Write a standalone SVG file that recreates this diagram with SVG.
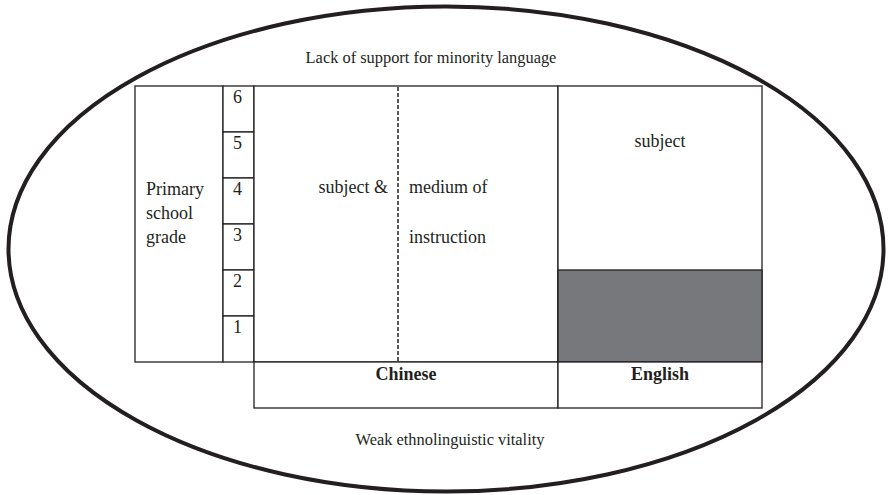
<svg xmlns="http://www.w3.org/2000/svg" width="889" height="495" viewBox="0 0 889 495">
<style>
.box{fill:#fff;stroke:#231f20;stroke-width:1.3}
text{font-family:'Liberation Serif','Times New Roman','DejaVu Serif',serif;fill:#231f20;font-size:18px}
.s{font-size:16.4px}
.b{font-weight:bold}
</style>
<rect width="889" height="495" fill="#fff"/>
<g id="outer">
<ellipse cx="446" cy="249" rx="437.5" ry="242.5" fill="none" stroke="#231f20" stroke-width="4"/>
<text class="s" x="431" y="63" text-anchor="middle">Lack of support for minority language</text>
<text class="s" x="450" y="445" text-anchor="middle">Weak ethnolinguistic vitality</text>
</g>
<g id="grade-label">
<rect class="box" x="135" y="86" width="88" height="276"/>
<text x="146" y="195">Primary</text>
<text x="146" y="219">school</text>
<text x="146" y="243">grade</text>
</g>
<g id="grades">
<rect class="box" x="223" y="86" width="31" height="46"/>
<rect class="box" x="223" y="132" width="31" height="46"/>
<rect class="box" x="223" y="178" width="31" height="46"/>
<rect class="box" x="223" y="224" width="31" height="46"/>
<rect class="box" x="223" y="270" width="31" height="46"/>
<rect class="box" x="223" y="316" width="31" height="46"/>
<text x="233" y="103">6</text>
<text x="233" y="149">5</text>
<text x="233" y="195">4</text>
<text x="233" y="241">3</text>
<text x="233" y="287">2</text>
<text x="233" y="333">1</text>
</g>
<g id="chinese">
<rect class="box" x="254" y="86" width="304" height="276"/>
<line x1="398" y1="87" x2="398" y2="361" stroke="#231f20" stroke-width="1.5" stroke-dasharray="4,2"/>
<text x="388" y="193" text-anchor="end">subject &amp;</text>
<text x="409" y="193">medium of</text>
<text x="409" y="243">instruction</text>
<rect class="box" x="254" y="362" width="304" height="46"/>
<text class="b" x="406" y="380" text-anchor="middle">Chinese</text>
</g>
<g id="english">
<rect class="box" x="558" y="86" width="204" height="276"/>
<rect x="558" y="270" width="204" height="92" fill="#77787b" stroke="#231f20" stroke-width="1.3"/>
<text x="660" y="147" text-anchor="middle">subject</text>
<rect class="box" x="558" y="362" width="204" height="46"/>
<text class="b" x="660" y="380" text-anchor="middle">English</text>
</g>
<g id="connectors"></g>
</svg>
